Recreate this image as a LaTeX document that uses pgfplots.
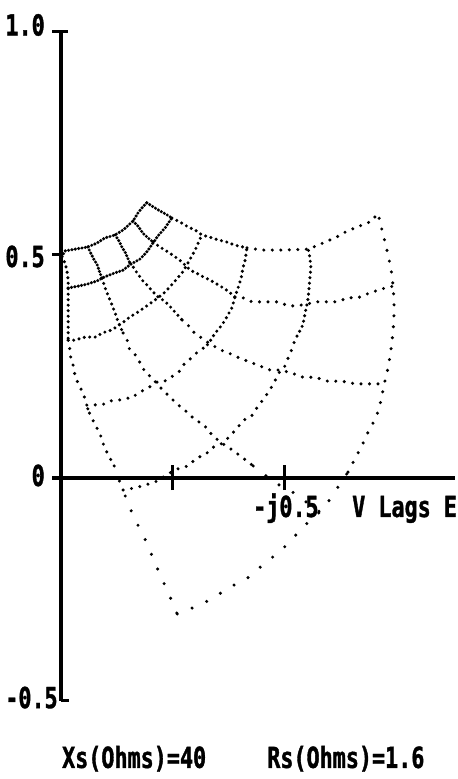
\documentclass[border=0pt]{standalone}
\usepackage{fontspec}
\usepackage{pgfplots}
\pgfplotsset{compat=1.18}
\newfontfamily\dosfont[FakeStretch=0.75,FakeBold=1.2]{DejaVu Sans Mono}

% dot spacings for the curvilinear grid (dense near the upper left, sparse at the bottom)
\tikzset{
  grid/.style={black, line width=3.4bp, line cap=round, mark=none},
  d1/.style={grid, dash pattern=on 0bp off 3.4bp},
  d2/.style={grid, dash pattern=on 0bp off 5.5bp},
  d3/.style={grid, dash pattern=on 0bp off 8.5bp},
  d3b/.style={grid, dash pattern=on 0bp off 11bp},
  d4/.style={grid, dash pattern=on 0bp off 16bp},
  lbl/.style={inner sep=0pt, font=\dosfont\bfseries\fontsize{29bp}{30bp}\selectfont},
}

\begin{document}
\begin{tikzpicture}
\begin{axis}[
  x=447bp, y=446bp,
  xmin=-0.02, xmax=0.882, ymin=-0.5, ymax=1.0,
  hide axis, clip=false,
]
% page extent
\path (axis cs:-0.1365,1.0717) rectangle (axis cs:0.8837,-0.6749);

% axes and ticks
\draw[line width=3.5bp] (axis cs:0,-0.5) -- (axis cs:0,1.0);
\draw[line width=3.5bp] (axis cs:-0.02,0) -- (axis cs:0.882,0);
\draw[line width=3bp] (axis cs:-0.02,1.0) -- (axis cs:0.016,1.0);
\draw[line width=3bp] (axis cs:-0.02,0.5) -- (axis cs:0,0.5);
\draw[line width=3bp] (axis cs:0,-0.5) -- (axis cs:0.018,-0.5);
\draw[line width=3bp] (axis cs:0.25,-0.027) -- (axis cs:0.25,0.029);
\draw[line width=3bp] (axis cs:0.5,-0.027) -- (axis cs:0.5,0.029);

\node[lbl, anchor=base east] at (axis cs:-0.036,0.992) {1.0};
\node[lbl, anchor=base east] at (axis cs:-0.036,0.473) {0.5};
\node[lbl, anchor=base east] at (axis cs:-0.036,-0.018) {0};
\node[lbl, anchor=base east] at (axis cs:-0.007,-0.516) {-0.5};
\node[lbl, anchor=base west] at (axis cs:0.4295,-0.0874) {-j0.5};
\node[lbl, anchor=base west] at (axis cs:0.651,-0.0874) {V Lags E};
\node[lbl, anchor=base west] at (axis cs:0.002,-0.650) {Xs(Ohms)=40};
\node[lbl, anchor=base west] at (axis cs:0.461,-0.650) {Rs(Ohms)=1.6};

% family V (from the upper-left edge to the outer edge)
\addplot[d2] coordinates {(0.002,0.496) (0.009,0.482) (0.013,0.466) (0.016,0.444) (0.016,0.426) (0.016,0.399) (0.016,0.366) (0.016,0.332) (0.016,0.309)};
\addplot[d3] coordinates {(0.016,0.309) (0.020,0.287) (0.022,0.269) (0.027,0.253) (0.031,0.231) (0.038,0.213) (0.047,0.195) (0.054,0.177) (0.060,0.155) (0.067,0.137) (0.078,0.117) (0.089,0.094) (0.096,0.072) (0.107,0.049) (0.119,0.027)};
\addplot[d4] coordinates {(0.119,0.027) (0.128,0.000) (0.139,-0.027) (0.150,-0.058) (0.166,-0.094) (0.179,-0.119) (0.195,-0.152) (0.208,-0.186) (0.224,-0.222) (0.242,-0.262) (0.260,-0.305)};

\addplot[d1] coordinates {(0.060,0.518) (0.065,0.507) (0.072,0.493) (0.081,0.478) (0.087,0.460) (0.092,0.448)};
\addplot[d2] coordinates {(0.092,0.448) (0.098,0.428) (0.105,0.410) (0.114,0.388) (0.121,0.370) (0.128,0.350) (0.134,0.336) (0.139,0.325)};
\addplot[d3] coordinates {(0.139,0.325) (0.148,0.309) (0.152,0.291) (0.166,0.276) (0.177,0.258) (0.188,0.238) (0.204,0.224) (0.213,0.213) (0.228,0.197) (0.246,0.179) (0.262,0.164) (0.284,0.146) (0.300,0.130) (0.318,0.121) (0.340,0.094) (0.360,0.078) (0.383,0.063) (0.407,0.045) (0.430,0.027)};
\addplot[d4] coordinates {(0.430,0.027) (0.456,0.007) (0.483,-0.013) (0.517,-0.031) (0.546,-0.052) (0.579,-0.076)};

\addplot[d1] coordinates {(0.121,0.545) (0.130,0.531) (0.136,0.518) (0.143,0.507) (0.148,0.496) (0.154,0.482)};
\addplot[d2] coordinates {(0.154,0.482) (0.163,0.471) (0.170,0.460) (0.183,0.442) (0.195,0.430) (0.204,0.419) (0.217,0.406) (0.228,0.399) (0.239,0.390) (0.255,0.372) (0.271,0.354)};
\addplot[d3] coordinates {(0.271,0.354) (0.284,0.343) (0.293,0.330) (0.309,0.318) (0.327,0.305) (0.345,0.294) (0.362,0.285) (0.380,0.278) (0.403,0.267) (0.423,0.260) (0.445,0.251) (0.468,0.242) (0.492,0.242) (0.517,0.235) (0.541,0.226) (0.568,0.226) (0.597,0.217) (0.629,0.217) (0.658,0.211) (0.689,0.211) (0.723,0.211)};

\addplot[d1] coordinates {(0.161,0.576) (0.172,0.565) (0.183,0.549) (0.195,0.538) (0.206,0.529)};
\addplot[d2] coordinates {(0.206,0.529) (0.221,0.518) (0.239,0.507) (0.255,0.496) (0.271,0.484) (0.289,0.466) (0.302,0.460) (0.318,0.451) (0.333,0.444) (0.345,0.437) (0.360,0.428) (0.374,0.419) (0.389,0.406)};
\addplot[d3] coordinates {(0.389,0.406) (0.407,0.404) (0.427,0.395) (0.450,0.395) (0.468,0.395) (0.485,0.395) (0.508,0.386) (0.528,0.386) (0.550,0.390) (0.573,0.395) (0.595,0.395) (0.617,0.395) (0.642,0.404) (0.664,0.404) (0.691,0.415) (0.718,0.424) (0.743,0.430)};

\addplot[d1] coordinates {(0.192,0.617) (0.206,0.608) (0.221,0.599) (0.237,0.590) (0.248,0.583)};
\addplot[d2] coordinates {(0.248,0.583) (0.266,0.574) (0.284,0.563) (0.300,0.556) (0.315,0.545) (0.333,0.540) (0.351,0.534) (0.371,0.529) (0.389,0.522) (0.416,0.516)};
\addplot[d3] coordinates {(0.416,0.516) (0.450,0.511) (0.497,0.511) (0.553,0.513) (0.575,0.522) (0.595,0.531) (0.613,0.538) (0.631,0.549) (0.651,0.558) (0.673,0.567) (0.691,0.574) (0.709,0.592)};

% family H (from the left edge to the upper-right edge)
\addplot[d1] coordinates {(0.002,0.496) (0.009,0.509) (0.031,0.513) (0.049,0.516) (0.060,0.518) (0.081,0.527) (0.098,0.538) (0.121,0.545) (0.139,0.556) (0.161,0.576) (0.172,0.594) (0.183,0.608) (0.192,0.617)};
\addplot[d1] coordinates {(0.016,0.426) (0.038,0.430) (0.060,0.435) (0.081,0.442) (0.092,0.448) (0.098,0.451) (0.121,0.460) (0.139,0.466) (0.154,0.478) (0.177,0.491) (0.192,0.507) (0.206,0.527) (0.217,0.543) (0.233,0.561) (0.248,0.583)};
\addplot[d2] coordinates {(0.016,0.309) (0.031,0.309) (0.054,0.316) (0.078,0.316) (0.092,0.325) (0.114,0.332) (0.130,0.343) (0.143,0.352) (0.154,0.361) (0.172,0.372) (0.195,0.388) (0.217,0.404) (0.233,0.417) (0.251,0.437) (0.271,0.460) (0.284,0.482) (0.300,0.511) (0.315,0.545)};
\addplot[d3] coordinates {(0.060,0.155) (0.076,0.164) (0.092,0.164) (0.110,0.173) (0.125,0.173) (0.143,0.179) (0.159,0.179) (0.172,0.191) (0.186,0.197) (0.201,0.206) (0.215,0.215) (0.228,0.215) (0.244,0.224) (0.253,0.231) (0.266,0.240) (0.277,0.258) (0.289,0.267) (0.306,0.283) (0.318,0.291)};
\addplot[d2] coordinates {(0.318,0.291) (0.329,0.300) (0.345,0.325) (0.360,0.343) (0.371,0.361) (0.383,0.383) (0.389,0.406) (0.396,0.426) (0.403,0.448) (0.407,0.471) (0.412,0.489) (0.416,0.516)};
\addplot[d3] coordinates {(0.139,-0.027) (0.166,-0.022) (0.188,-0.016) (0.215,-0.007) (0.239,0.009) (0.260,0.020) (0.284,0.027) (0.304,0.045) (0.322,0.052) (0.342,0.070) (0.362,0.078) (0.378,0.094) (0.394,0.112) (0.409,0.130) (0.425,0.137) (0.438,0.157) (0.450,0.173) (0.463,0.191) (0.474,0.209) (0.483,0.226) (0.492,0.244) (0.501,0.251) (0.508,0.269) (0.515,0.285) (0.521,0.303) (0.528,0.318)};
\addplot[d2] coordinates {(0.528,0.318) (0.541,0.343) (0.546,0.370) (0.550,0.388) (0.553,0.404) (0.555,0.428) (0.557,0.451) (0.559,0.471) (0.557,0.493) (0.553,0.513)};
\addplot[d4] coordinates {(0.260,-0.305) (0.300,-0.289) (0.338,-0.271) (0.378,-0.244) (0.412,-0.229) (0.443,-0.202) (0.474,-0.177) (0.503,-0.152) (0.530,-0.123) (0.553,-0.099) (0.579,-0.076) (0.606,-0.043) (0.624,-0.013) (0.642,0.013)};
\addplot[d3b] coordinates {(0.642,0.013) (0.655,0.038) (0.673,0.072) (0.685,0.099) (0.698,0.123) (0.709,0.148) (0.716,0.175) (0.723,0.211) (0.729,0.235) (0.734,0.260) (0.738,0.287) (0.743,0.327) (0.745,0.370) (0.745,0.395) (0.743,0.430) (0.738,0.471) (0.734,0.489) (0.729,0.511) (0.725,0.529) (0.718,0.556) (0.714,0.574) (0.709,0.592)};
\end{axis}
\end{tikzpicture}
\end{document}
